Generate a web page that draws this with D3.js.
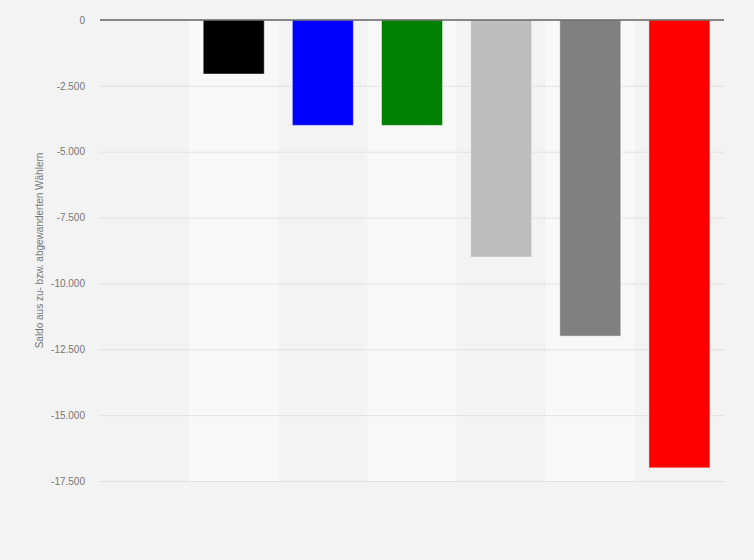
<!DOCTYPE html>
<html>
<head>
<meta charset="utf-8">
<script src="https://cdn.jsdelivr.net/npm/d3@7"></script>
<style>
  html, body { margin: 0; padding: 0; background: #f3f3f3; }
  svg { display: block; font-family: "Liberation Sans", Arial, sans-serif; }
</style>
</head>
<body>
<svg id="chart" width="754" height="560"></svg>
<script>
const categories = ["Kat. 1", "Kat. 2", "Kat. 3", "Kat. 4", "Kat. 5", "Kat. 6", "Kat. 7"];
const values = [null, -2050, -4000, -4000, -9000, -12000, -17000];
const colors = ["#cccccc", "#000000", "#0000ff", "#008000", "#bebebe", "#808080", "#ff0000"];
const yTicks = [0, -2500, -5000, -7500, -10000, -12500, -15000, -17500];
const yTitle = "Saldo aus zu- bzw. abgewanderten Wählern";

const svg = d3.select("#chart");
const margin = { left: 100, right: 30, top: 20, bottom: 79 };
const W = 754, H = 560;

const x = d3.scaleBand().domain(categories).range([margin.left, W - margin.right]).paddingInner(0).paddingOuter(0);
const y = d3.scaleLinear().domain([-17500, 0]).range([H - margin.bottom, margin.top]);

const de = d3.formatLocale({ decimal: ",", thousands: ".", grouping: [3], currency: ["", "€"], minus: "-" });
const fmt = de.format(",");

svg.append("rect").attr("width", W).attr("height", H).attr("fill", "#f3f3f3");

// alternating bands
svg.append("g").selectAll("rect").data(categories).join("rect")
  .attr("x", d => x(d))
  .attr("y", y(0))
  .attr("width", x.bandwidth())
  .attr("height", y(-17500) - y(0))
  .attr("fill", (d, i) => i % 2 === 1 ? "#f8f8f8" : "#f3f3f3");

// grid lines
const yAxis = d3.axisLeft(y).tickValues(yTicks).tickSize(-(W - margin.left - margin.right)).tickPadding(15).tickFormat(d => d === 0 ? "0" : fmt(d));
const gy = svg.append("g").attr("transform", `translate(${margin.left},0)`).call(yAxis);
gy.select(".domain").remove();
gy.selectAll(".tick line").attr("stroke", "#cfcfcf").attr("stroke-dasharray", "1,1");
gy.selectAll(".tick text").attr("fill", "#767676").attr("font-size", "10px").attr("font-family", "Liberation Sans, Arial, sans-serif");

// bars
const barW = 61;
svg.append("g").selectAll("rect").data(categories.map((c, i) => ({ c, v: values[i], col: colors[i] })).filter(d => d.v !== null))
  .join("rect")
  .attr("x", d => x(d.c) + (x.bandwidth() - barW) / 2)
  .attr("y", y(0))
  .attr("width", barW)
  .attr("height", d => y(d.v) - y(0))
  .attr("fill", d => d.col)
  .attr("stroke", "rgba(255,255,255,0.45)")
  .attr("stroke-width", 1);

// zero line
svg.append("line")
  .attr("x1", margin.left).attr("x2", W - margin.right)
  .attr("y1", y(0)).attr("y2", y(0))
  .attr("stroke", "#666666").attr("stroke-width", 1.5);

// y title
svg.append("text")
  .attr("transform", `translate(43,${(y(0) + y(-17500)) / 2}) rotate(-90)`)
  .attr("text-anchor", "middle")
  .attr("fill", "#767676")
  .attr("font-size", "10px")
  .text(yTitle);
</script>
</body>
</html>
